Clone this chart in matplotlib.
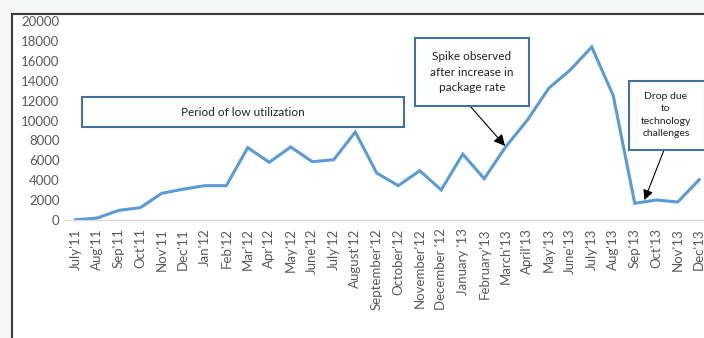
import matplotlib.pyplot as plt
from matplotlib.patches import Rectangle

# monthly values
months = ["July'11", "Aug'11", "Sep'11", "Oct'11", "Nov'11", "Dec'11", "Jan'12", "Feb'12",
          "Mar'12", "Apr'12", "May'12", "June'12", "July'12", "August'12", "September'12",
          "October'12", "November'12", "December '12", "January '13", "February'13",
          "March'13", "April'13", "May'13", "June'13", "July'13", "Aug'13", "Sep'13",
          "Oct'13", "Nov'13", "Dec'13"]
values = [30, 200, 970, 1240, 2680, 3100, 3450, 3450,
          7270, 5800, 7340, 5860, 6060, 8840, 4720,
          3450, 4950, 3020, 6630, 4150,
          7370, 10020, 13240, 15080, 17390, 12490, 1680,
          2010, 1810, 4050]

W, H = 704, 338
fig = plt.figure(figsize=(W / 100, H / 100), dpi=100)
fig.patch.set_facecolor('white')

# pale window strips and the dark chart border
fig.patches.append(Rectangle((0, 0), 1, 1, transform=fig.transFigure,
                             facecolor='#f6f8f7', edgecolor='none', zorder=-3))
fig.patches.append(Rectangle((11 / W, 0), 1, (H - 14) / H, transform=fig.transFigure,
                             facecolor='white', edgecolor='none', zorder=-2))
fig.add_artist(plt.Line2D([11.5 / W, 11.5 / W], [0, (H - 14) / H], transform=fig.transFigure,
                          color='#3a3a3a', lw=1.5))
fig.add_artist(plt.Line2D([11.5 / W, 1], [(H - 14) / H, (H - 14) / H], transform=fig.transFigure,
                          color='#3a3a3a', lw=1.5))

ax = fig.add_axes([65 / W, (H - 220) / H, 645 / W, 199 / H])
ax.set_facecolor('none')
x = range(len(months))
ax.plot(x, values, color='#5b9bd5', lw=2.2, solid_joinstyle='miter', clip_on=False)

ax.set_xlim(-0.5, len(months) - 0.5)
ax.set_ylim(0, 20000)
ax.set_yticks(range(0, 20001, 2000))
ax.set_xticks(list(x))
ax.set_xticklabels(months, rotation=90)
ax.tick_params(axis='both', length=0, labelsize=9.5, labelcolor='#595959', pad=4)
ax.tick_params(axis='x', pad=6)
for lbl in ax.get_xticklabels() + ax.get_yticklabels():
    lbl.set_fontfamily('Lato')
for s in ['top', 'right', 'left']:
    ax.spines[s].set_visible(False)
ax.spines['bottom'].set_color('#d9d9d9')

fz = 8.5

# Period of low utilization box
fig.add_artist(Rectangle((82 / W, (H - 127) / H), 322 / W, 30 / H, transform=fig.transFigure,
                         facecolor='white', edgecolor='#41719c', lw=1.5))
fig.text(243 / W, (H - 112) / H, 'Period of low utilization', ha='center', va='center',
         fontsize=fz, family='Lato', color='#222222')

# Spike box
fig.add_artist(Rectangle((415 / W, (H - 106) / H), 114 / W, 68 / H, transform=fig.transFigure,
                         facecolor='white', edgecolor='#41719c', lw=1.5))
fig.text(472 / W, (H - 72) / H, 'Spike observed\nafter increase in\npackage rate', ha='center',
         va='center', fontsize=fz, family='Lato', color='#222222', linespacing=1.55)
ax.annotate('', xy=(19.97, 7440), xycoords='data',
            xytext=(470 / W, (H - 106) / H), textcoords='figure fraction',
            arrowprops=dict(arrowstyle='-|>', color='black', lw=0.8, mutation_scale=17,
                            shrinkA=0, shrinkB=0))

# Drop box
fig.add_artist(Rectangle((629 / W, (H - 150) / H), 76 / W, 69 / H, transform=fig.transFigure,
                         facecolor='white', edgecolor='#41719c', lw=1.5))
fig.text(666 / W, (H - 115) / H, 'Drop due\nto\ntechnology\nchallenges', ha='center',
         va='center', fontsize=7.5, family='Lato', color='#222222', linespacing=1.45)
ax.annotate('', xy=(26.45, 2000), xycoords='data',
            xytext=(664 / W, (H - 150) / H), textcoords='figure fraction',
            arrowprops=dict(arrowstyle='-|>', color='black', lw=0.8, mutation_scale=15,
                            shrinkA=0, shrinkB=0))

fig.savefig('out.png', dpi=100)
